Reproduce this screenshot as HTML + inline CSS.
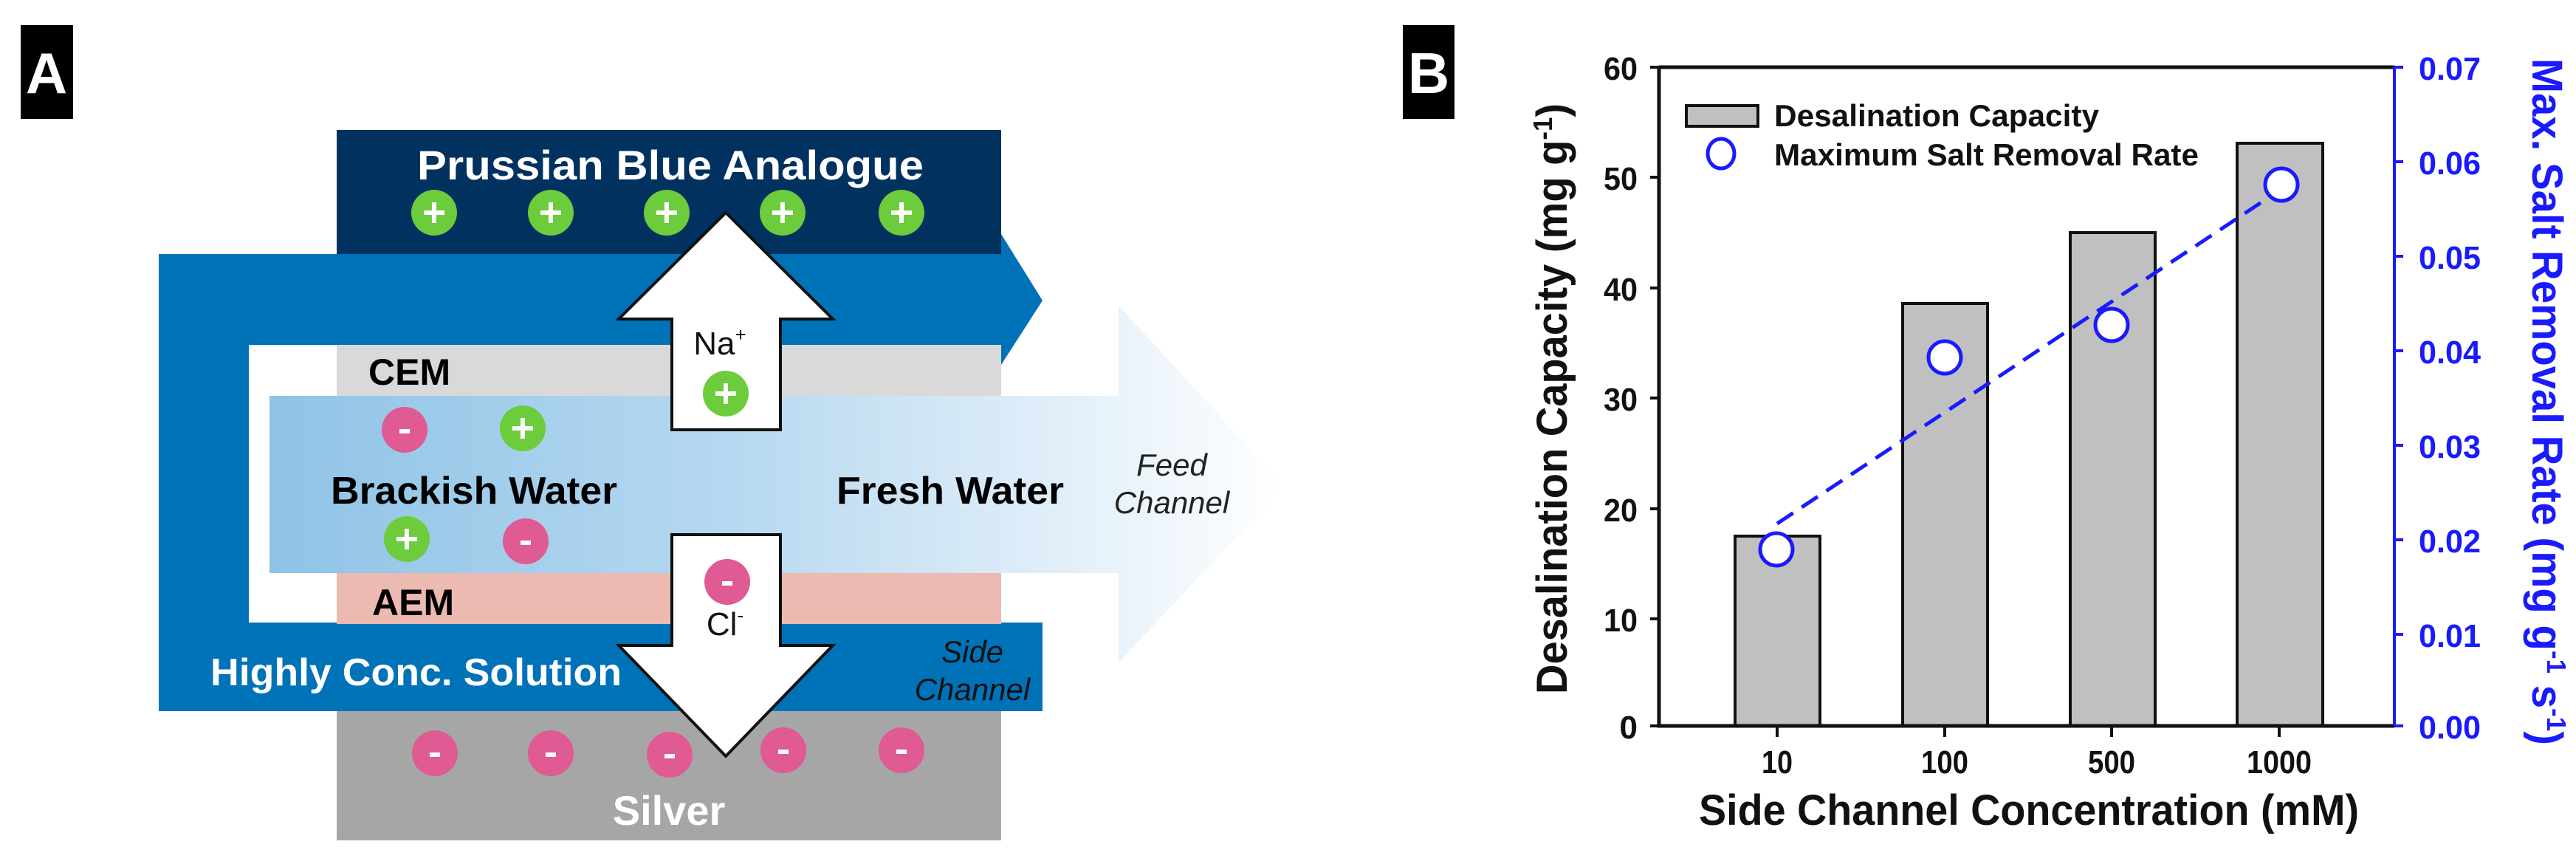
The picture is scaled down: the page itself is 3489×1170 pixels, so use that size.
<!DOCTYPE html>
<html><head><meta charset="utf-8"><style>html,body{margin:0;padding:0;background:#fff}svg{display:block}</style></head>
<body>
<svg xmlns="http://www.w3.org/2000/svg" width="3489" height="1170" viewBox="0 0 3489 1170" font-family="Liberation Sans, Arial, sans-serif">
<defs>
<linearGradient id="fg" x1="365" y1="0" x2="1740" y2="0" gradientUnits="userSpaceOnUse">
<stop offset="0" stop-color="#8fc3e6"/><stop offset="0.45" stop-color="#b6d8f0"/><stop offset="0.8" stop-color="#e4f0f9"/><stop offset="1" stop-color="#ffffff"/>
</linearGradient>
</defs>
<rect x="28" y="34" width="71" height="127" fill="#000"/>
<text x="63" y="126" font-size="78" font-weight="bold" fill="#fff" text-anchor="middle">A</text>

<rect x="456" y="176" width="900" height="168" fill="#00315f"/>
<text x="565" y="243" font-size="56" font-weight="bold" fill="#fff" textLength="686" lengthAdjust="spacingAndGlyphs">Prussian Blue Analogue</text>

<path d="M215 344 H1356 V317 L1412 407 L1356 494 V467 H337 V843 H1412 V963 H215 Z" fill="#0072b8"/>
<rect x="456" y="467" width="900" height="70" fill="#d9d9d9"/>
<rect x="456" y="775" width="900" height="70" fill="#ecbab1"/>
<rect x="456" y="963" width="900" height="175" fill="#a6a6a6"/>
<path d="M365 536 H1515 V414 L1740 658 L1515 897 V776 H365 Z" fill="url(#fg)"/>

<text x="499" y="521" font-size="50" font-weight="bold" fill="#000">CEM</text>
<text x="504" y="833" font-size="50" font-weight="bold" fill="#000">AEM</text>
<text x="448" y="682" font-size="52" font-weight="bold" fill="#000" textLength="388" lengthAdjust="spacingAndGlyphs">Brackish Water</text>
<text x="1133" y="682" font-size="52" font-weight="bold" fill="#000" textLength="308" lengthAdjust="spacingAndGlyphs">Fresh Water</text>
<text x="1587" y="644" font-size="42" font-style="italic" fill="#222" text-anchor="middle">Feed</text>
<text x="1587" y="695" font-size="42" font-style="italic" fill="#222" text-anchor="middle">Channel</text>
<text x="1317" y="897" font-size="42" font-style="italic" fill="#111" text-anchor="middle">Side</text>
<text x="1317" y="948" font-size="42" font-style="italic" fill="#111" text-anchor="middle">Channel</text>
<text x="285" y="928" font-size="52" font-weight="bold" fill="#fff" textLength="557" lengthAdjust="spacingAndGlyphs">Highly Conc. Solution</text>
<text x="906" y="1117" font-size="56" font-weight="bold" fill="#fff" text-anchor="middle">Silver</text>

<path d="M983 288 L1128 432 H1057 V582 H910 V432 H838 Z" fill="#fff" stroke="#111" stroke-width="4" stroke-linejoin="miter"/>
<path d="M910 724 H1057 V874 H1128 L983 1024 L838 874 H910 Z" fill="#fff" stroke="#111" stroke-width="4"/>
<text x="975" y="480" font-size="44" fill="#111" text-anchor="middle">Na<tspan font-size="26" dy="-18">+</tspan></text>
<text x="982" y="860" font-size="44" fill="#111" text-anchor="middle">Cl<tspan font-size="26" dy="-18">-</tspan></text>

<g font-weight="bold" font-size="44" text-anchor="middle" fill="#fff">
<g fill="#6ccc3c"><circle cx="588" cy="288" r="31"/><circle cx="746" cy="288" r="31"/><circle cx="903" cy="288" r="31"/><circle cx="1060" cy="288" r="31"/><circle cx="1221" cy="288" r="31"/><circle cx="983" cy="533" r="31"/><circle cx="708" cy="580" r="31"/><circle cx="551" cy="730" r="31"/></g>
<g fill="#e05a93"><circle cx="548" cy="582" r="31"/><circle cx="712" cy="733" r="31"/><circle cx="985" cy="788" r="31"/><circle cx="589" cy="1020" r="31"/><circle cx="746" cy="1020" r="31"/><circle cx="907" cy="1022" r="31"/><circle cx="1061" cy="1016" r="31"/><circle cx="1221" cy="1016" r="31"/></g>
<g stroke="#fff" stroke-width="6">
<path d="M574 288h28M588 274v28M732 288h28M746 274v28M889 288h28M903 274v28M1046 288h28M1060 274v28M1207 288h28M1221 274v28M969 533h28M983 519v28M694 580h28M708 566v28M537 730h28M551 716v28"/>
<path d="M541 584h14M705 735h14M978 790h14M582 1022h14M739 1022h14M900 1024h14M1054 1018h14M1214 1018h14"/>
</g>
</g>

<rect x="1900" y="34" width="70" height="127" fill="#000"/>
<text x="1935" y="126" font-size="78" font-weight="bold" fill="#fff" text-anchor="middle">B</text>

<g stroke="#111" stroke-width="4" fill="#c0c0c0">
<rect x="2350" y="726" width="115" height="257"/>
<rect x="2577" y="411" width="115" height="572"/>
<rect x="2804" y="315" width="115" height="668"/>
<rect x="3030" y="194" width="116" height="789"/>
</g>
<path d="M2247 91 H3243 M2247 91 V983 H3243" fill="none" stroke="#111" stroke-width="5"/>
<path d="M3243 91 V983" stroke="#1a1aff" stroke-width="4"/>
<g stroke="#111" stroke-width="4">
<path d="M2235 91h12M2235 240h12M2235 390h12M2235 539h12M2235 689h12M2235 838h12M2235 983h12"/>
<path d="M2407 983v15M2634 983v15M2860 983v15M3087 983v15"/>
</g>
<g stroke="#1a1aff" stroke-width="4">
<path d="M3243 91h12M3243 219h12M3243 347h12M3243 475h12M3243 603h12M3243 731h12M3243 859h12M3243 983h12"/>
</g>
<g font-size="44" font-weight="bold" fill="#111" text-anchor="end">
<text x="2218" y="108" textLength="46" lengthAdjust="spacingAndGlyphs">60</text>
<text x="2218" y="257" textLength="46" lengthAdjust="spacingAndGlyphs">50</text>
<text x="2218" y="407" textLength="46" lengthAdjust="spacingAndGlyphs">40</text>
<text x="2218" y="556" textLength="46" lengthAdjust="spacingAndGlyphs">30</text>
<text x="2218" y="706" textLength="46" lengthAdjust="spacingAndGlyphs">20</text>
<text x="2218" y="855" textLength="46" lengthAdjust="spacingAndGlyphs">10</text>
<text x="2218" y="1000">0</text>
</g>
<g font-size="44" font-weight="bold" fill="#1a1aff">
<text x="3276" y="108" textLength="84" lengthAdjust="spacingAndGlyphs">0.07</text>
<text x="3276" y="236" textLength="84" lengthAdjust="spacingAndGlyphs">0.06</text>
<text x="3276" y="364" textLength="84" lengthAdjust="spacingAndGlyphs">0.05</text>
<text x="3276" y="492" textLength="84" lengthAdjust="spacingAndGlyphs">0.04</text>
<text x="3276" y="620" textLength="84" lengthAdjust="spacingAndGlyphs">0.03</text>
<text x="3276" y="748" textLength="84" lengthAdjust="spacingAndGlyphs">0.02</text>
<text x="3276" y="876" textLength="84" lengthAdjust="spacingAndGlyphs">0.01</text>
<text x="3276" y="1000" textLength="84" lengthAdjust="spacingAndGlyphs">0.00</text>
</g>
<g font-size="44" font-weight="bold" fill="#111" text-anchor="middle">
<text x="2407" y="1047" textLength="42" lengthAdjust="spacingAndGlyphs">10</text>
<text x="2634" y="1047" textLength="64" lengthAdjust="spacingAndGlyphs">100</text>
<text x="2860" y="1047" textLength="64" lengthAdjust="spacingAndGlyphs">500</text>
<text x="3087" y="1047" textLength="88" lengthAdjust="spacingAndGlyphs">1000</text>
</g>
<text x="2301" y="1117" font-size="58" font-weight="bold" fill="#111" textLength="894" lengthAdjust="spacingAndGlyphs">Side Channel Concentration (mM)</text>
<text transform="translate(2122 540) rotate(-90)" font-size="58" font-weight="bold" fill="#111" text-anchor="middle" textLength="800" lengthAdjust="spacingAndGlyphs">Desalination Capacity (mg g<tspan font-size="36" dy="-20">-1</tspan><tspan dy="20">)</tspan></text>
<text transform="translate(3430 544) rotate(90)" font-size="58" font-weight="bold" fill="#1a1aff" text-anchor="middle" textLength="930" lengthAdjust="spacingAndGlyphs">Max. Salt Removal Rate (mg g<tspan font-size="36" dy="-20">-1</tspan><tspan dy="20"> s</tspan><tspan font-size="36" dy="-20">-1</tspan><tspan dy="20">)</tspan></text>

<rect x="2284" y="143" width="97" height="28" fill="#c0c0c0" stroke="#111" stroke-width="4"/>
<text x="2403" y="171" font-size="42" font-weight="bold" fill="#111" textLength="440" lengthAdjust="spacingAndGlyphs">Desalination Capacity</text>
<ellipse cx="2331" cy="208" rx="18" ry="20" fill="none" stroke="#1a1aff" stroke-width="5"/>
<text x="2403" y="224" font-size="42" font-weight="bold" fill="#111" textLength="575" lengthAdjust="spacingAndGlyphs">Maximum Salt Removal Rate</text>

<path d="M2407 709 L3087 258" stroke="#1a1aff" stroke-width="5" stroke-dasharray="26 14" fill="none"/>
<g fill="#fff" stroke="#1a1aff" stroke-width="5">
<circle cx="2406" cy="744" r="22"/><circle cx="2634" cy="484" r="22"/><circle cx="2860" cy="440" r="22"/><circle cx="3090" cy="250" r="22"/>
</g>
</svg>
</body></html>
